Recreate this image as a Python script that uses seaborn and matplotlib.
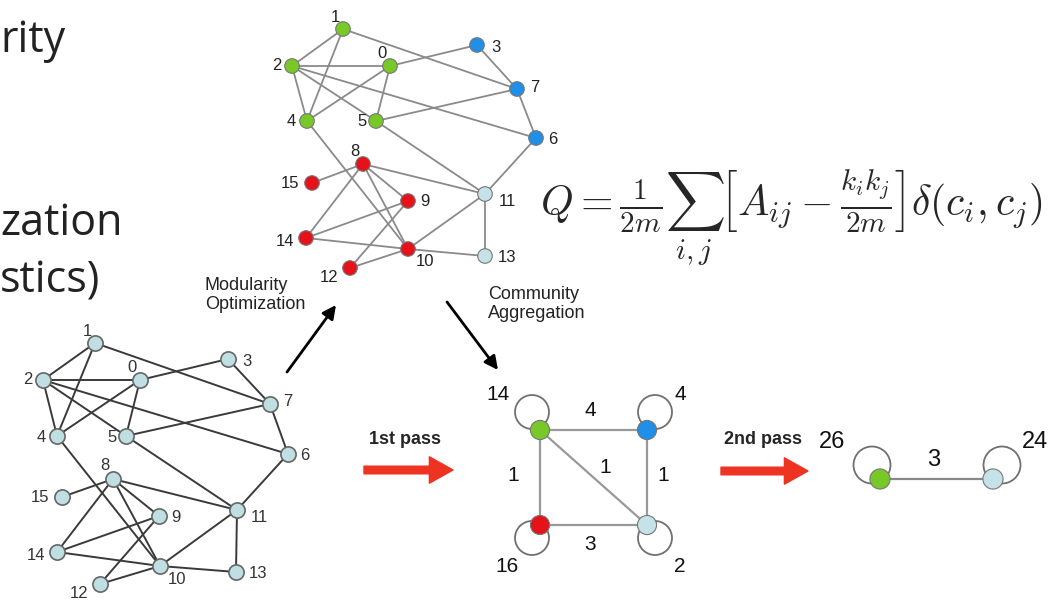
import numpy as np
import pandas as pd
import matplotlib
matplotlib.use("Agg")
import matplotlib.pyplot as plt
from matplotlib.patches import Circle
import seaborn as sns

sns.set_theme(style="white")
plt.rcParams["font.family"] = ["Liberation Sans", "DejaVu Sans"]
plt.rcParams["mathtext.fontset"] = "cm"

# ---- data ----
node_ids = list(range(16))
# original graph (bottom left)
orig_x = [140, 95, 43, 228, 57, 126, 288, 270, 113, 159, 160, 237, 100, 236, 57, 62]
orig_y = [380, 343, 380, 359, 436, 436, 454, 404, 479, 516, 566, 510, 584, 572, 552, 497]
# same graph after modularity optimization (top)
opt_x = [390, 343, 292, 477, 307, 376, 536, 517, 363, 408, 408, 485, 350, 485, 306, 312]
opt_y = [66, 29, 66, 45, 121, 121, 138, 89, 164, 201, 249, 194, 268, 256, 238, 183]
community = ["green", "green", "green", "blue", "green", "green", "blue", "blue",
             "red", "red", "red", "cyan", "red", "cyan", "red", "red"]

edges = [(0, 2), (0, 3), (0, 4), (0, 5), (1, 2), (1, 4), (1, 7), (2, 4), (2, 5), (2, 6),
         (3, 7), (4, 10), (5, 7), (5, 11), (6, 7), (6, 11), (8, 9), (8, 10), (8, 11),
         (8, 14), (8, 15), (9, 12), (9, 14), (10, 11), (10, 12), (10, 13), (10, 14), (11, 13)]

# first pass: one node per community
pass1_names = ["green", "blue", "red", "cyan"]
pass1_x = [540, 647, 540, 647]
pass1_y = [430, 430, 525, 525]
pass1_self = [14, 4, 16, 2]
pass1_edges = [("green", "blue", 4), ("green", "red", 1), ("green", "cyan", 1),
               ("blue", "cyan", 1), ("red", "cyan", 3)]

# second pass
pass2_names = ["green", "cyan"]
pass2_x = [880, 993]
pass2_y = [479, 479]
pass2_self = [26, 24]
pass2_edges = [("green", "cyan", 3)]

# slide text, cut at the left edge in the source
slide_lines = ["rity", "zation", "stics)"]

# ---- styles ----
palette = {"green": "#78c828", "blue": "#1f8fe8", "red": "#e5121a", "cyan": "#c5e2e8"}
label_off = [(-8, -12), (-8, -12), (-15, -1), (19, 2), (-16, 1), (-14, 1), (17, 2), (18, -2),
             (-8, -13), (17, 1), (17, 13), (22, 8), (-21, 9), (22, 2), (-21, 3), (-22, 1)]
p1_loop = {"green": (-8, -18), "blue": (8, -18), "red": (-8, 13), "cyan": (8, 13)}
p1_lab = {"green": (-42, -35), "blue": (33, -35), "red": (-33, 42), "cyan": (33, 42)}
p1_elab = [(-3, -20), (-27, -2), (12, -10), (16, -2), (-3, 20)]
p2_loop = {"green": (-8, -14), "cyan": (9, -14)}
p2_lab = {"green": (-48, -37), "cyan": (42, -37)}

fig = plt.figure(figsize=(10.51, 6.13), dpi=100)
ax = fig.add_axes([0, 0, 1, 1])
ax.set_xlim(0, 1051)
ax.set_ylim(613, 0)
ax.axis("off")

orig = pd.DataFrame({"node": node_ids, "x": orig_x, "y": orig_y})
opt = pd.DataFrame({"node": node_ids, "x": opt_x, "y": opt_y, "community": community})

# original graph
for a, b in edges:
    ax.plot([orig_x[a], orig_x[b]], [orig_y[a], orig_y[b]], color="#3a3a3a", lw=1.4, zorder=1)
sns.scatterplot(data=orig, x="x", y="y", s=120, color="#bfdfe2", edgecolor="#666666",
                linewidth=1.2, zorder=3, ax=ax, legend=False)
for i in node_ids:
    ax.text(orig_x[i] + label_off[i][0], orig_y[i] + label_off[i][1], str(i), fontsize=12,
            color="#333333", ha="center", va="center")

# optimized graph
for a, b in edges:
    ax.plot([opt_x[a], opt_x[b]], [opt_y[a], opt_y[b]], color="#8a8a8a", lw=1.3, zorder=1)
sns.scatterplot(data=opt, x="x", y="y", hue="community", palette=palette, s=110,
                edgecolor="#777777", linewidth=0.8, zorder=3, ax=ax, legend=False)
for i in node_ids:
    ax.text(opt_x[i] + label_off[i][0], opt_y[i] + label_off[i][1], str(i), fontsize=12,
            color="#222222", ha="center", va="center")

# first pass graph
p1 = pd.DataFrame({"community": pass1_names, "x": pass1_x, "y": pass1_y})
pos1 = {n: (x, y) for n, x, y in zip(pass1_names, pass1_x, pass1_y)}
for (a, b, w), (dx, dy) in zip(pass1_edges, p1_elab):
    ax.plot([pos1[a][0], pos1[b][0]], [pos1[a][1], pos1[b][1]], color="#999999", lw=1.6, zorder=1)
    ax.text((pos1[a][0] + pos1[b][0]) / 2 + dx, (pos1[a][1] + pos1[b][1]) / 2 + dy, str(w),
            fontsize=15, ha="center", va="center", color="#111111")
for n, w in zip(pass1_names, pass1_self):
    cx, cy = pos1[n][0] + p1_loop[n][0], pos1[n][1] + p1_loop[n][1]
    ax.add_patch(Circle((cx, cy), 17, fill=False, ec="#707070", lw=1.3, zorder=1))
    ax.text(pos1[n][0] + p1_lab[n][0], pos1[n][1] + p1_lab[n][1], str(w), fontsize=15,
            ha="center", va="center", color="#111111")
sns.scatterplot(data=p1, x="x", y="y", hue="community", palette=palette, s=190,
                edgecolor="#777777", linewidth=0.8, zorder=3, ax=ax, legend=False)

# second pass graph
p2 = pd.DataFrame({"community": pass2_names, "x": pass2_x, "y": pass2_y})
pos2 = {n: (x, y) for n, x, y in zip(pass2_names, pass2_x, pass2_y)}
for a, b, w in pass2_edges:
    ax.plot([pos2[a][0], pos2[b][0]], [pos2[a][1], pos2[b][1]], color="#888888", lw=1.6, zorder=1)
    ax.text((pos2[a][0] + pos2[b][0]) / 2 - 3, (pos2[a][1] + pos2[b][1]) / 2 - 19, str(w),
            fontsize=17, ha="center", va="center", color="#111111")
for n, w in zip(pass2_names, pass2_self):
    cx, cy = pos2[n][0] + p2_loop[n][0], pos2[n][1] + p2_loop[n][1]
    ax.add_patch(Circle((cx, cy), 18.5, fill=False, ec="#707070", lw=1.3, zorder=1))
    ax.text(pos2[n][0] + p2_lab[n][0], pos2[n][1] + p2_lab[n][1], str(w), fontsize=17,
            ha="center", va="center", color="#111111")
sns.scatterplot(data=p2, x="x", y="y", hue="community", palette=palette, s=210,
                edgecolor="#777777", linewidth=0.8, zorder=3, ax=ax, legend=False)

# arrows and captions
black = dict(arrowstyle="-|>,head_length=0.5,head_width=0.25", color="black", lw=2,
             mutation_scale=16, shrinkA=0, shrinkB=0)
ax.annotate("", xy=(336, 305), xytext=(287, 372), arrowprops=black)
ax.annotate("", xy=(498, 370), xytext=(447, 302), arrowprops=black)
ax.text(205, 295, "Modularity\nOptimization", fontsize=13, ha="left", va="center",
        linespacing=1.1, color="#222222")
ax.text(488, 304, "Community\nAggregation", fontsize=13, ha="left", va="center",
        linespacing=1.1, color="#222222")

red = dict(arrowstyle="simple,head_width=1.9,head_length=1.7,tail_width=0.55",
           color="#ee3322", mutation_scale=10, shrinkA=0, shrinkB=0)
ax.annotate("", xy=(453, 470), xytext=(364, 470), arrowprops=red)
ax.annotate("", xy=(808, 471), xytext=(721, 471), arrowprops=red)
ax.text(405, 440, "1st pass", fontsize=13, fontweight="bold", ha="center", va="center")
ax.text(763, 440, "2nd pass", fontsize=13, fontweight="bold", ha="center", va="center")

# modularity formula
ax.text(791, 218, r"$Q=\frac{1}{2m}\sum_{i,j}\left[A_{ij}-\frac{k_ik_j}{2m}\right]\delta(c_i,c_j)$",
        fontsize=30, ha="center", va="center")

# slide text fragments at the left edge
big = dict(fontsize=31, family=["Open Sans", "DejaVu Sans"], color="#222222", va="baseline", ha="left")
for txt, xr, yb in zip(slide_lines, [0, 0, 0], [52, 235, 292]):
    ax.text(xr, yb, txt, **big)

fig.savefig("out.png", dpi=100)
